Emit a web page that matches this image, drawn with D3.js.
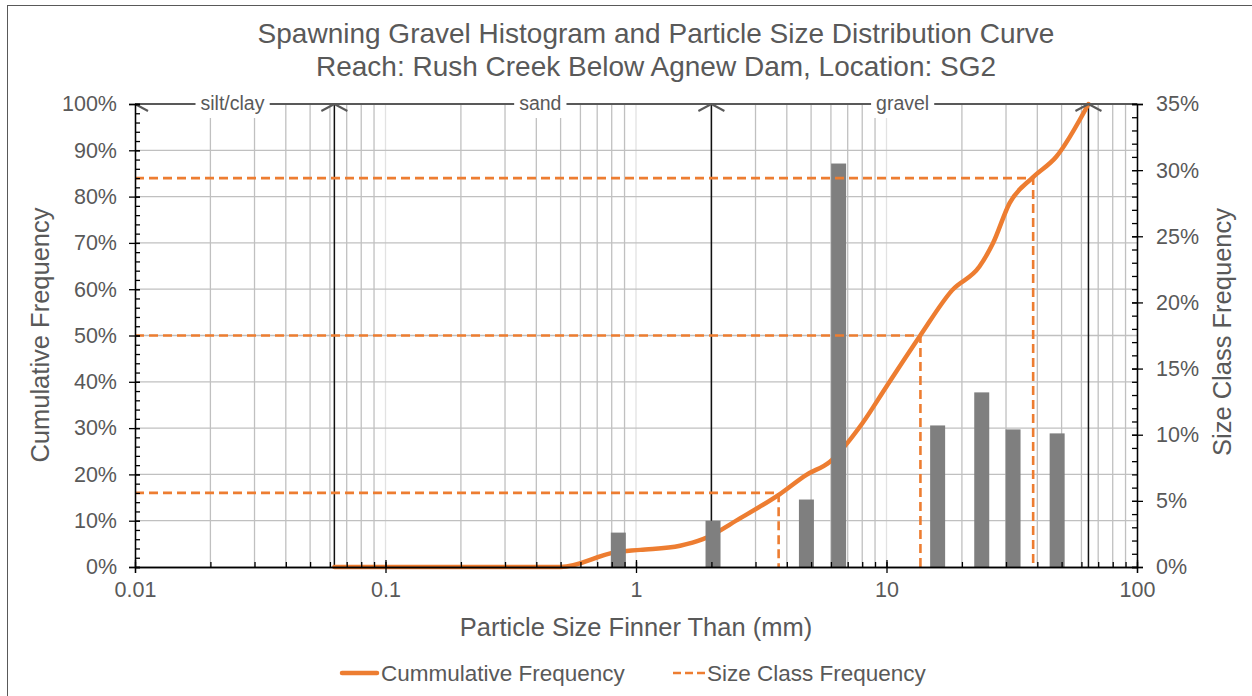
<!DOCTYPE html>
<html><head><meta charset="utf-8">
<script src="https://cdn.jsdelivr.net/npm/d3@7"></script>
<style>body{margin:0;background:#fff;}svg{display:block;font-family:"Liberation Sans",Arial,sans-serif;}</style>
</head><body>
<svg id="c" width="1252" height="696"></svg>
<script>
// ---- data ----
const titleLines = ["Spawning Gravel Histogram and Particle Size Distribution Curve",
                    "Reach: Rush Creek Below Agnew Dam, Location: SG2"];
// cumulative distribution (particle size mm, cumulative fraction finer)
const cumSize = [0.0625, 0.5, 0.83, 1.04, 1.5, 1.85, 2.6, 3.74, 4.79, 5.93, 8, 10, 13.6, 18.3, 23.5, 26.6, 31, 38.3, 47.6, 64];
const cumFreq = [0, 0, 0.032, 0.037, 0.046, 0.060, 0.105, 0.157, 0.199, 0.227, 0.31, 0.39, 0.499, 0.598, 0.649, 0.699, 0.786, 0.841, 0.886, 1.0];
// histogram (size class, frequency)
const barSize = [0.85, 2.03, 4.79, 6.44, 16, 24, 32, 48];
const barFreq = [0.026, 0.035, 0.051, 0.305, 0.107, 0.132, 0.104, 0.101];
// D16, D50, D84
const dPct = [0.16, 0.50, 0.84];
const dSize = [3.71, 13.66, 38.5];
// size class boundaries and labels
const classBounds = [0.01, 0.0625, 2, 64];
const classNames = ["silt/clay", "sand", "gravel"];
const classLabelAt = [0.0245, 0.415, 11.6];
const xTicks = [0.01, 0.1, 1, 10, 100];
const yLeftTicks = [0, 0.1, 0.2, 0.3, 0.4, 0.5, 0.6, 0.7, 0.8, 0.9, 1.0];
const yRightTicks = [0, 0.05, 0.10, 0.15, 0.20, 0.25, 0.30, 0.35];
const legendItems = ["Cummulative Frequency", "Size Class Frequency"];

// ---- drawing ----
const svg = d3.select("#c");
const TXT = "#595959", OR = "#ED7D31", GRID = "#c0c0c0";
const L = 135, R = 1137, T = 104, B = 567;
const x = d3.scaleLog().domain([0.01, 100]).range([L, R]);
const yL = d3.scaleLinear().domain([0, 1]).range([B, T]);
const yR = d3.scaleLinear().domain([0, 0.35]).range([B, T]);

// frame
svg.append("rect").attr("x", 7.5).attr("y", 5.5).attr("width", 1300).attr("height", 800)
  .attr("fill", "none").attr("stroke", "#595959").attr("stroke-width", 1);

// title
svg.append("g").selectAll("text").data(titleLines).join("text")
  .attr("x", 656).attr("y", (d, i) => 43 + i * 33).attr("text-anchor", "middle")
  .attr("fill", TXT).attr("font-size", 28).text(d => d);

// vertical grid (log minor lines)
const minor = [];
for (let e = -2; e < 2; e++) for (let m = 1; m <= 9; m++) minor.push(m * Math.pow(10, e));
minor.push(100);
const g = svg.append("g");
g.selectAll("line.v").data(minor.filter(v => v > 0.01 && v < 100)).join("line")
  .attr("x1", d => x(d)).attr("x2", d => x(d)).attr("y1", T).attr("y2", B)
  .attr("stroke", d => Math.abs(Math.log10(d) - Math.round(Math.log10(d))) < 1e-9 ? "#e2e2e2" : GRID)
  .attr("stroke-width", 1.3);
g.selectAll("line.h").data(yLeftTicks.filter(v => v > 0 && v < 1)).join("line")
  .attr("x1", L).attr("x2", R).attr("y1", d => yL(d)).attr("y2", d => yL(d))
  .attr("stroke", GRID).attr("stroke-width", 1.3);

// class boundary lines
svg.append("g").selectAll("line").data(classBounds.slice(1)).join("line")
  .attr("x1", d => x(d)).attr("x2", d => x(d)).attr("y1", T).attr("y2", B)
  .attr("stroke", "#111").attr("stroke-width", 1.5);

// cumulative curve
const line = d3.line().x(d => x(d[0])).y(d => yL(d[1])).curve(d3.curveMonotoneX);
svg.append("path").datum(cumSize.map((s, i) => [s, cumFreq[i]]))
  .attr("d", line).attr("fill", "none").attr("stroke", OR).attr("stroke-width", 4.5)
  .attr("stroke-linecap", "round");

// bars
const BW = 15;
svg.append("g").selectAll("rect").data(barSize.map((s, i) => [s, barFreq[i]])).join("rect")
  .attr("x", d => x(d[0]) - BW / 2).attr("width", BW)
  .attr("y", d => yR(d[1])).attr("height", d => B - yR(d[1]))
  .attr("fill", "#7f7f7f");

// D-lines (dashed)
const dg = svg.append("g").attr("fill", "none").attr("stroke", OR).attr("stroke-width", 2.6)
  .attr("stroke-dasharray", "9,5");
dPct.forEach((p, i) => {
  dg.append("path").attr("d", d3.line()([[L, yL(p)], [x(dSize[i]), yL(p)], [x(dSize[i]), B]]));
});

// top class bar
svg.append("line").attr("x1", L).attr("x2", R).attr("y1", T).attr("y2", T)
  .attr("stroke", "#595959").attr("stroke-width", 2);
const ag = svg.append("g").attr("stroke", "#595959").attr("stroke-width", 2).attr("fill", "none");
classBounds.forEach((b, i) => {
  const xb = x(b);
  if (i > 0) ag.append("path").attr("d", `M${xb - 13},${T + 7}L${xb},${T}`);
  ag.append("path").attr("d", `M${xb + 13},${T + 7}L${xb},${T}`);
});
const lg = svg.append("g");
classNames.forEach((n, i) => {
  const t = lg.append("text").attr("x", x(classLabelAt[i])).attr("y", T + 6)
    .attr("text-anchor", "middle").attr("fill", TXT).attr("font-size", 19.5).text(n);
  const bb = t.node().getBBox();
  lg.insert("rect", "text").attr("x", bb.x - 5).attr("y", T - 10).attr("width", bb.width + 10)
    .attr("height", 24).attr("fill", "#fff");
});

// axes
const ax = svg.append("g");
function styleAxis(sel) {
  sel.select(".domain").attr("stroke", "#000").attr("stroke-width", 1.3);
  sel.selectAll(".tick line").attr("stroke", "#000").attr("stroke-width", 1.3);
  sel.selectAll(".tick text").attr("fill", TXT).attr("font-size", 21.5).attr("font-family", "Liberation Sans, Arial, sans-serif");
}
// left minor
const yLMinor = d3.range(0, 101, 2).map(v => v / 100);
ax.append("g").attr("transform", `translate(${L},0)`)
  .call(d3.axisLeft(yL).tickValues(yLMinor).tickSize(-5).tickFormat(""))
  .call(styleAxis);
ax.append("g").attr("transform", `translate(${L},0)`)
  .call(d3.axisLeft(yL).tickValues(yLeftTicks).tickSize(6).tickPadding(12).tickFormat(d3.format(".0%")))
  .call(styleAxis).call(s => s.selectAll(".tick line").attr("x2", -6).attr("x1", 5));
// right
const yRMinor = d3.range(0, 36, 1).map(v => v / 100);
ax.append("g").attr("transform", `translate(${R},0)`)
  .call(d3.axisRight(yR).tickValues(yRMinor).tickSize(-5).tickFormat(""))
  .call(styleAxis);
ax.append("g").attr("transform", `translate(${R},0)`)
  .call(d3.axisRight(yR).tickValues(yRightTicks).tickSize(6).tickPadding(13).tickFormat(d3.format(".0%")))
  .call(styleAxis).call(s => s.selectAll(".tick line").attr("x1", -5));
// bottom
ax.append("g").attr("transform", `translate(0,${B})`)
  .call(d3.axisBottom(x).tickValues(minor.filter(v => v > 0.01 && v < 100)).tickSize(-5).tickFormat(""))
  .call(styleAxis);
ax.append("g").attr("transform", `translate(0,${B})`)
  .call(d3.axisBottom(x).tickValues(xTicks).tickSize(6).tickPadding(9).tickFormat(d => String(d)))
  .call(styleAxis).call(s => s.selectAll(".tick line").attr("y1", -7));

// axis titles
svg.append("text").attr("transform", "translate(49,335) rotate(-90)").attr("text-anchor", "middle")
  .attr("fill", TXT).attr("font-size", 25.5).text("Cumulative Frequency");
svg.append("text").attr("transform", "translate(1231,332) rotate(-90)").attr("text-anchor", "middle")
  .attr("fill", TXT).attr("font-size", 25.5).text("Size Class Frequency");
svg.append("text").attr("x", 636).attr("y", 636).attr("text-anchor", "middle")
  .attr("fill", TXT).attr("font-size", 25.5).text("Particle Size Finner Than (mm)");

// legend
const leg = svg.append("g").attr("transform", "translate(0,673)");
leg.append("line").attr("x1", 342).attr("x2", 377).attr("stroke", OR).attr("stroke-width", 4.5).attr("stroke-linecap", "round");
leg.append("line").attr("x1", 673).attr("x2", 705).attr("stroke", OR).attr("stroke-width", 2.6).attr("stroke-dasharray", "8,4");
leg.selectAll("text").data(legendItems).join("text")
  .attr("x", (d, i) => i === 0 ? 381 : 707).attr("y", 8).attr("fill", TXT).attr("font-size", 22.5).text(d => d);
</script>
</body></html>
